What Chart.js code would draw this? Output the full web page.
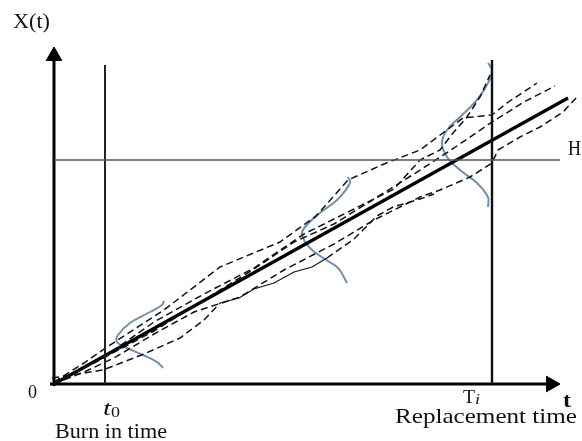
<!DOCTYPE html>
<html><head><meta charset="utf-8">
<script src="https://cdn.jsdelivr.net/npm/chart.js@4.4.1/dist/chart.umd.min.js"></script>
<style>html,body{margin:0;padding:0;background:#fff;}#wrap{width:582px;height:441px;position:relative;}</style>
</head><body><div id="wrap"><canvas id="c"></canvas></div>
<script>
// ---- data (t = time, X = degradation) ----
const trendLine = [[0,0],[514,286]];
const pathA = [[0,2],[30,21],[56,39],[110,74],[166,117],[226,142],[262,168],[294,204],[330,220],[366,234],[409,266],[438,269],[453,281],[483,301]];
const pathB = [[0,0],[40,21],[100,53],[150,84],[200,115],[240,142],[280,160],[320,185],[360,210],[400,236],[438,262],[470,282],[501,298]];
const pathC = [[0,0],[50,27],[100,62],[150,90],[200,116],[250,150],[300,175],[340,195],[366,224],[386,234],[399,251],[413,267],[426,287],[436,309]];
const pathD = [[0,0],[30,12],[60,26],[100,50],[140,72],[186,87],[230,114],[280,140],[320,164],[366,187],[386,194],[416,207],[438,221],[444,234],[466,247],[486,257],[509,272],[523,287]];
const pathE = [[-2,6],[49,14],[90,30],[126,46],[150,64],[166,81],[185,86],[200,95],[220,101],[240,112],[258,117],[273,126],[300,145],[323,168],[339,177],[366,185],[380,190]];
const pathESolid = [166, 273];
const pdf1 = [[110,83],[108,79],[96,72],[76,61],[64,49],[63,42],[73,36],[89,29],[103,22],[109,16]];
const pdf2 = [[294,207],[296,201],[283,184],[266,171],[251,157],[248,149],[256,136],[269,126],[284,116],[293,101]];
const pdf3 = [[434,321],[438,314],[434,301],[423,284],[406,267],[393,254],[388,241],[393,227],[406,214],[423,201],[434,187],[434,177]];
const tBurnIn = 51, tReplace = 438, thresholdH = 224;
const tAxisEnd = 497, xAxisEnd = 328;

const pts = a => a.map(([t, X]) => ({x: t, y: X}));
const line = (data, color, width, extra) => Object.assign({
  type: 'line', data: pts(data), borderColor: color, borderWidth: width,
  pointRadius: 0, fill: false, tension: 0
}, extra || {});

const textLabels = [
  {text:'X(t)', t:-41, X:356, font:'20px "Liberation Serif"', w:37},
  {text:'0', t:-26, X:-14, font:'18px "Liberation Serif"', w:9},
  {text:'t', t:49, X:-31, font:'italic 20px "Liberation Serif"', w:8},
  {text:'0', t:57, X:-33, font:'15px "Liberation Serif"', w:9},
  {text:'Burn in time', t:1, X:-54, font:'20px "Liberation Serif"', w:112},
  {text:'T', t:409, X:-19, font:'19px "Liberation Serif"', w:12},
  {text:'i', t:421, X:-20, font:'italic 14px "Liberation Serif"', w:5},
  {text:'t', t:509, X:-23, font:'bold 20px "Liberation Serif"', w:8},
  {text:'Replacement time', t:341, X:-39, font:'21px "Liberation Serif"', w:182},
  {text:'H', t:514, X:229, font:'20px "Liberation Serif"', w:13}
];

const labelPlugin = {
  id: 'labels',
  afterDatasetsDraw(chart) {
    const {ctx, scales: {x, y}} = chart;
    ctx.save();
    ctx.fillStyle = '#111';
    ctx.textBaseline = 'alphabetic';
    ctx.textAlign = 'left';
    for (const L of textLabels) {
      ctx.font = L.font;
      const px = x.getPixelForValue(L.t), py = y.getPixelForValue(L.X);
      const w = ctx.measureText(L.text).width;
      const s = L.w ? L.w / w : 1;
      ctx.save(); ctx.translate(px, py); ctx.scale(s, 1); ctx.fillText(L.text, 0, 0); ctx.restore();
    }
    ctx.restore();
  }
};

const dash = [7, 4];
const blue = '#6f90b3';
const datasets = [
  line([[0, thresholdH],[506, thresholdH]], '#555', 1.4),
  line([[tBurnIn, 0],[tBurnIn, 319]], '#222', 2),
  line([[tReplace, 0],[tReplace, 324]], '#111', 2.4),
  line(pathA, '#111', 1.5, {borderDash: dash}),
  line(pathB, '#111', 1.5, {borderDash: dash}),
  line(pathC, '#111', 1.5, {borderDash: dash}),
  line(pathD, '#111', 1.5, {borderDash: dash}),
  line(pathE, '#111', 1.5, {borderDash: dash, segment: {
    borderDash: ctx => (ctx.p0.parsed.x >= pathESolid[0] && ctx.p1.parsed.x <= pathESolid[1]) ? [] : dash,
    borderWidth: ctx => (ctx.p0.parsed.x >= pathESolid[0] && ctx.p1.parsed.x <= pathESolid[1]) ? 1.1 : 1.5
  }}),
  line(trendLine, '#000', 3.2),
  line(pdf1, blue, 2, {tension: 0.4}),
  line(pdf2, blue, 2, {tension: 0.4}),
  line(pdf3, blue, 2, {tension: 0.4}),
  line([[0, -2],[0, xAxisEnd - 3]], '#000', 3),
  line([[-4, 0],[tAxisEnd - 3, 0]], '#000', 3),
  {type:'scatter', data: pts([[0, xAxisEnd]]), pointStyle:'triangle', pointRadius:9, pointRotation:0, backgroundColor:'#000', borderColor:'#000', borderWidth:1},
  {type:'scatter', data: pts([[tAxisEnd, 0]]), pointStyle:'triangle', pointRadius:9, pointRotation:90, backgroundColor:'#000', borderColor:'#000', borderWidth:1}
];

new Chart(document.getElementById('c'), {
  type: 'scatter',
  data: {datasets},
  options: {
    responsive: true, maintainAspectRatio: false, animation: false,
    layout: {padding: 0, autoPadding: false},
    plugins: {legend: {display: false}, tooltip: {enabled: false}},
    scales: {
      x: {type: 'linear', min: -54, max: 528, display: false},
      y: {type: 'linear', min: -57, max: 384, display: false}
    }
  },
  plugins: [labelPlugin]
});
</script>
</body></html>
